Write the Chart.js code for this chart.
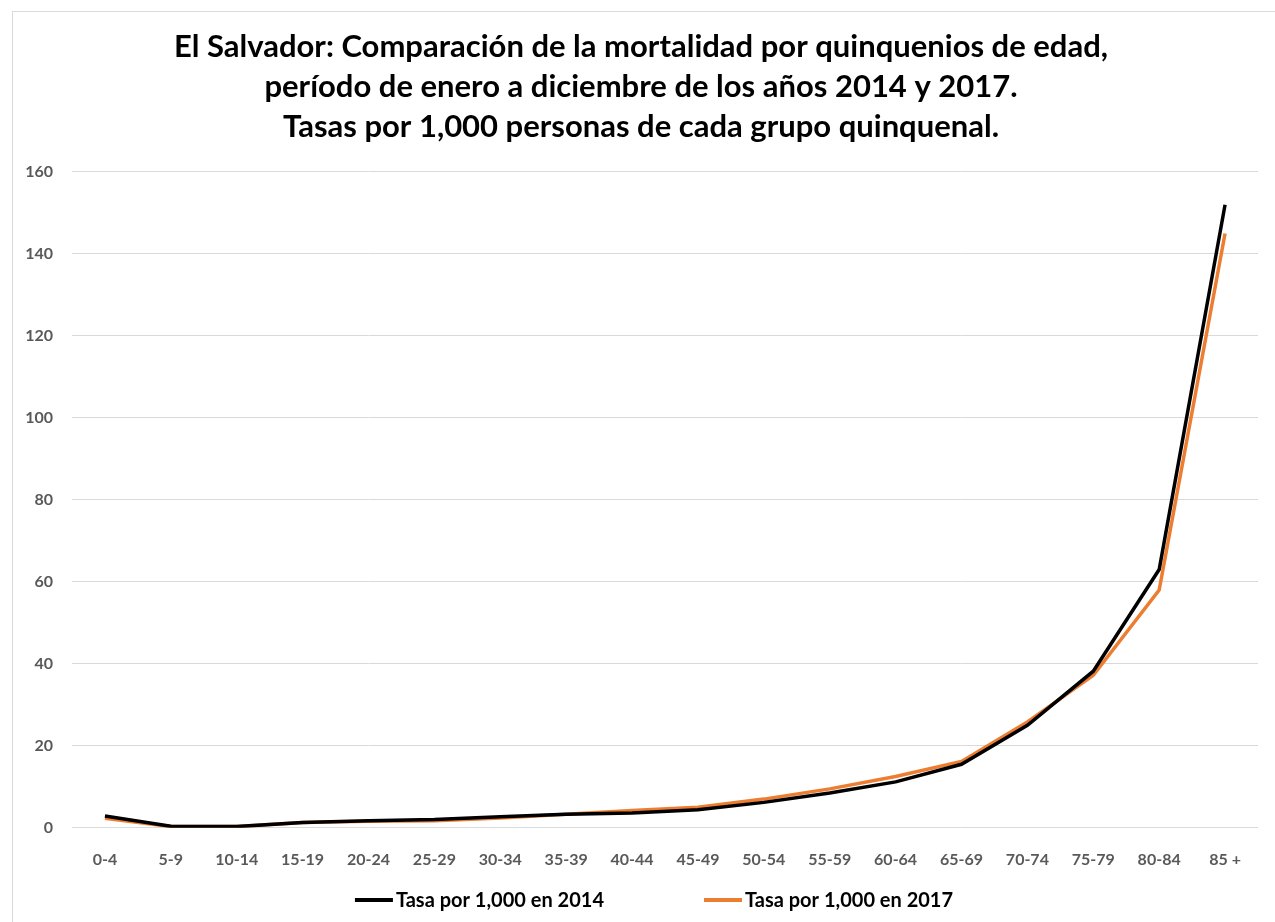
<!DOCTYPE html>
<html lang="es">
<head>
    <meta charset="UTF-8">
    <title>El Salvador: mortalidad por quinquenios de edad</title>
    <script src="https://cdn.jsdelivr.net/npm/chart.js"></script>
    <style>
        html, body { margin: 0; padding: 0; background: #fff; overflow: hidden; }
        .frame {
            position: absolute;
            left: 12px;
            top: 11px;
            width: 1400px;
            height: 1000px;
            border-left: 1px solid #d9d9d9;
            border-top: 1px solid #d9d9d9;
        }
        .wrap { position: absolute; left: 0; top: 0; width: 1275px; height: 922px; }
    </style>
</head>
<body>
    <div class="frame"></div>
    <div class="wrap"><canvas id="chart"></canvas></div>

    <script>
        // grupos de edad
        const ageGroups = ['0-4', '5-9', '10-14', '15-19', '20-24', '25-29', '30-34', '35-39', '40-44',
            '45-49', '50-54', '55-59', '60-64', '65-69', '70-74', '75-79', '80-84', '85 +'];

        // tasas por 1,000
        const rate2014 = [2.9, 0.4, 0.3, 1.3, 1.7, 2.0, 2.7, 3.3, 3.6, 4.4, 6.2, 8.5, 11.2, 15.5, 25.0, 38.2, 63.0, 152.0];
        const rate2017 = [2.3, 0.3, 0.3, 1.3, 1.6, 1.7, 2.4, 3.3, 4.2, 5.0, 7.0, 9.5, 12.5, 16.2, 25.8, 37.2, 58.0, 145.0];

        const yTicks = [0, 20, 40, 60, 80, 100, 120, 140, 160];

        const titleLines = [
            'El Salvador: Comparación de la mortalidad por quinquenios de edad,',
            'período de enero a diciembre de los años 2014 y 2017.',
            'Tasas por 1,000 personas de cada grupo quinquenal.'
        ];

        const FONT = 'Lato, "Open Sans", sans-serif';

        // leyenda dibujada a mano para controlar el espacio entre elementos
        const bottomLegend = {
            id: 'bottomLegend',
            afterDraw(chart) {
                const ctx = chart.ctx;
                const sets = chart.data.datasets;
                const y = 900, sw = 38, gap = 3, between = 100;
                ctx.save();
                ctx.font = 'bold 20px ' + FONT;
                ctx.textBaseline = 'middle';
                ctx.textAlign = 'left';
                const widths = sets.map(d => ctx.measureText(d.label).width);
                const total = widths.reduce((a, w) => a + sw + gap + w, 0) + between * (sets.length - 1);
                let x = 654 - total / 2;
                sets.forEach((d, i) => {
                    ctx.strokeStyle = d.borderColor;
                    ctx.lineWidth = 4;
                    ctx.beginPath();
                    ctx.moveTo(x, y);
                    ctx.lineTo(x + sw, y);
                    ctx.stroke();
                    ctx.fillStyle = '#000000';
                    ctx.fillText(d.label, x + sw + gap, y + 1);
                    x += sw + gap + widths[i] + between;
                });
                ctx.restore();
            }
        };

        new Chart(document.getElementById('chart'), {
            type: 'line',
            data: {
                labels: ageGroups,
                datasets: [
                    {
                        label: 'Tasa por 1,000 en 2014',
                        data: rate2014,
                        borderColor: '#000000',
                        backgroundColor: '#000000',
                        borderWidth: 3.5,
                        pointRadius: 0,
                        tension: 0
                    },
                    {
                        label: 'Tasa por 1,000 en 2017',
                        data: rate2017,
                        borderColor: '#ED7D31',
                        backgroundColor: '#ED7D31',
                        borderWidth: 3.5,
                        pointRadius: 0,
                        tension: 0
                    }
                ]
            },
            plugins: [bottomLegend],
            options: {
                responsive: true,
                maintainAspectRatio: false,
                animation: false,
                layout: { padding: { left: 24, right: 17, top: 27, bottom: 39 } },
                scales: {
                    x: {
                        offset: true,
                        grid: { display: false },
                        border: { display: false },
                        ticks: {
                            color: '#595959',
                            font: { family: FONT, size: 16, weight: 'bold' },
                            padding: 14,
                            maxRotation: 0,
                            autoSkip: false
                        }
                    },
                    y: {
                        min: 0,
                        max: 160,
                        afterBuildTicks: axis => { axis.ticks = yTicks.map(v => ({ value: v })); },
                        afterFit: axis => { axis.width = 48; },
                        grid: { color: '#d9d9d9', lineWidth: 1, drawTicks: false },
                        border: { display: false },
                        ticks: {
                            color: '#595959',
                            font: { family: FONT, size: 16, weight: 'bold' },
                            padding: 19
                        }
                    }
                },
                plugins: {
                    title: {
                        display: true,
                        text: titleLines,
                        color: '#000000',
                        font: { family: FONT, size: 31, weight: 'bold', lineHeight: 1.29 },
                        padding: { top: 0, bottom: 25 }
                    },
                    legend: { display: false },
                    tooltip: { enabled: false }
                }
            }
        });
    </script>
</body>
</html>
